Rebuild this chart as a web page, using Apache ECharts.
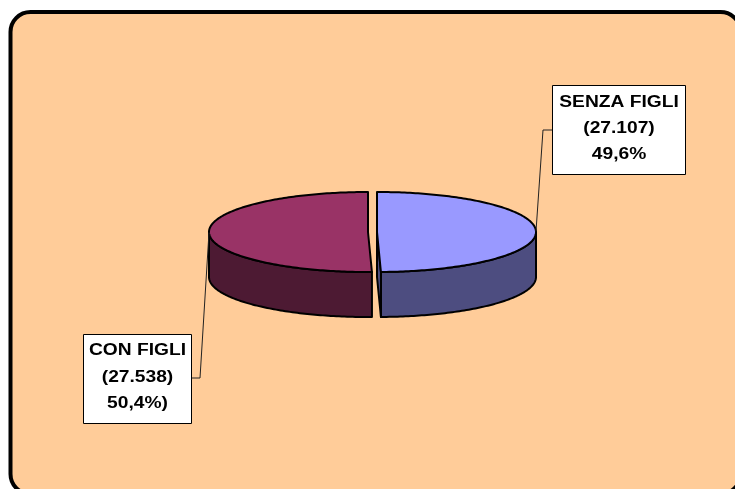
<!DOCTYPE html>
<html>
<head>
<meta charset="utf-8">
<script src="https://cdn.jsdelivr.net/npm/echarts@6/dist/echarts.min.js"></script>
<style>
html,body{margin:0;padding:0;background:#fff;}
#c{width:735px;height:489px;}
</style>
</head>
<body>
<div id="c"></div>
<script>
// ---- data ----
const categories = ['SENZA FIGLI', 'CON FIGLI'];
const values = [27107, 27538];
const valueLabels = ['(27.107)', '(27.538)'];
const pctLabels = ['49,6%', '50,4%)'];

// ---- styles / layout ----
const topColors = ['#9999FF', '#993366'];
const sideColors = ['#4D4D80', '#4D1A33'];
const PIE = {cx: 372.5, cy: 232, rx: 159, ry: 40, depth: 45, explode: 4.5};
const BOXES = [
  {x: 552, y: 85, w: 133, h: 89, elbowX: 543, elbowY: 130, side: 'left', lines: [103, 129, 155]},
  {x: 83, y: 334, w: 108, h: 89, elbowX: 200, elbowY: 378, side: 'right', lines: [351, 378, 404]}
];
const FONT = 'bold 16px "Liberation Sans", Arial, sans-serif';

const total = values.reduce((a, b) => a + b, 0);

function renderItem(params, api) {
  const i = params.dataIndex;
  const v = api.value(0);
  let before = 0;
  for (let k = 0; k < i; k++) before += values[k];
  const start = before / total * Math.PI * 2;
  const end = start + v / total * Math.PI * 2;
  const mid = (start + end) / 2;
  const cx = PIE.cx + PIE.explode * Math.sin(mid);
  const cy = PIE.cy - PIE.explode * Math.cos(mid) * PIE.ry / PIE.rx;
  const pt = (t, dz) => [cx + PIE.rx * Math.sin(t), cy - PIE.ry * Math.cos(t) + dz];
  const arc = (a, b, dz) => {
    const n = Math.max(2, Math.ceil((b - a) / (Math.PI / 180)));
    const out = [];
    for (let s = 0; s <= n; s++) out.push(pt(a + (b - a) * s / n, dz));
    return out;
  };
  const stroke = {stroke: '#000', lineWidth: 2, lineJoin: 'round'};
  const children = [];
  // outer wall (front half only)
  const wa = Math.max(start, Math.PI / 2), wb = Math.min(end, Math.PI * 1.5);
  if (wb > wa) {
    const pts = arc(wa, wb, 0).concat(arc(wa, wb, PIE.depth).reverse());
    children.push({type: 'polygon', z2: 1, shape: {points: pts}, style: Object.assign({fill: sideColors[i]}, stroke)});
  }
  // radial cut faces
  const face = (t) => {
    const p = pt(t, 0), q = pt(t, PIE.depth);
    return [[cx, cy], p, q, [cx, cy + PIE.depth]];
  };
  if (Math.cos(start - Math.PI / 2) < -1e-6) {
    children.push({type: 'polygon', z2: 2, shape: {points: face(start)}, style: Object.assign({fill: sideColors[i]}, stroke)});
  }
  if (Math.cos(end + Math.PI / 2) < -1e-6) {
    children.push({type: 'polygon', z2: 2, shape: {points: face(end)}, style: Object.assign({fill: sideColors[i]}, stroke)});
  }
  // top face
  children.push({type: 'polygon', z2: 3, shape: {points: [[cx, cy]].concat(arc(start, end, 0))},
    style: Object.assign({fill: topColors[i]}, stroke)});
  // leader line
  const b = BOXES[i];
  const anchor = pt(mid, 0);
  const boxEdgeX = b.side === 'left' ? b.x : b.x + b.w;
  children.push({type: 'polyline', z2: 4, shape: {points: [anchor, [b.elbowX, b.elbowY], [boxEdgeX, b.elbowY]]},
    style: {stroke: '#222', lineWidth: 1, fill: null}});
  // label box
  children.push({type: 'rect', z2: 5, shape: {x: b.x + 0.5, y: b.y + 0.5, width: b.w, height: b.h},
    style: {fill: '#fff', stroke: '#000', lineWidth: 1}});
  const texts = [categories[i], valueLabels[i], pctLabels[i]];
  texts.forEach((t, k) => {
    children.push({type: 'text', z2: 6, x: b.x + b.w / 2 + 0.5, y: b.lines[k], scaleX: 1.2,
      style: {text: t, font: FONT, fill: '#000', align: 'center', verticalAlign: 'middle'}});
  });
  return {type: 'group', children: children};
}

const chart = echarts.init(document.getElementById('c'), null, {renderer: 'canvas'});
chart.setOption({
  animation: false,
  backgroundColor: '#fff',
  graphic: [{
    type: 'rect', z: -10,
    shape: {x: 10.5, y: 12, width: 730, height: 482, r: 20},
    style: {fill: '#FFCC99', stroke: '#000', lineWidth: 4}
  }],
  series: [{
    type: 'custom',
    coordinateSystem: 'none',
    renderItem: renderItem,
    data: values.map((v, i) => ({name: categories[i], value: [v]}))
  }]
});
</script>
</body>
</html>
